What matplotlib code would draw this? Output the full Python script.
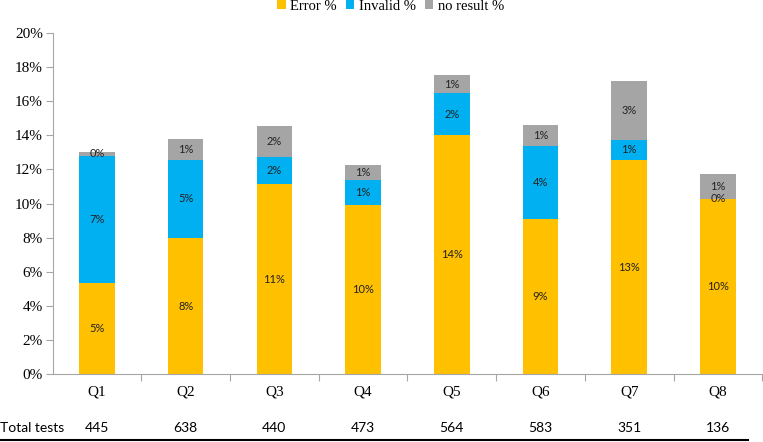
import matplotlib
matplotlib.use("Agg")
import matplotlib.pyplot as plt
from matplotlib.transforms import blended_transform_factory
from matplotlib.lines import Line2D
from matplotlib.ticker import FuncFormatter
from matplotlib.font_manager import FontProperties

categories = ["Q1", "Q2", "Q3", "Q4", "Q5", "Q6", "Q7", "Q8"]
error_pct = [5.36, 8.0, 11.12, 9.91, 14.01, 9.07, 12.55, 10.28]
invalid_pct = [7.44, 4.55, 1.58, 1.48, 2.45, 4.31, 1.18, 0.0]
noresult_pct = [0.2, 1.23, 1.84, 0.85, 1.05, 1.22, 3.43, 1.45]
total_tests = [445, 638, 440, 473, 564, 583, 351, 136]

series_names = ["Error %", "Invalid %", "no result %"]
colors = ["#FFC000", "#00B0F0", "#A5A5A5"]

serif = FontProperties(family="Liberation Serif", size=11)

fig = plt.figure(figsize=(7.63, 4.42), dpi=100)
ax = fig.add_axes([0.069, 0.153, 0.93, 0.773])

x = list(range(len(categories)))
bottom = [0.0] * len(categories)
handles = []
for vals, name, col in zip([error_pct, invalid_pct, noresult_pct], series_names, colors):
    bars = ax.bar(x, vals, width=0.4, bottom=bottom, color=col, label=name, zorder=2)
    handles.append(bars)
    ax.bar_label(bars, labels=[f"{round(v):d}%" for v in vals], label_type="center",
                 fontsize=8, family="Lato", color="#222222")
    bottom = [b + v for b, v in zip(bottom, vals)]

ax.set_xlim(-0.5, 7.5)
ax.set_ylim(0, 20)
ax.set_yticks(range(0, 21, 2))
ax.yaxis.set_major_formatter(FuncFormatter(lambda v, p: f"{int(v)}%"))
for s in ["top", "right"]:
    ax.spines[s].set_visible(False)
for s in ["left", "bottom"]:
    ax.spines[s].set_color("#A6A6A6")
    ax.spines[s].set_linewidth(0.8)
ax.tick_params(axis="y", length=5, color="#A6A6A6", width=0.8, pad=2)
ax.set_xticks(x)
ax.set_xticklabels(categories)
ax.set_xticks([i + 0.5 for i in range(8)], minor=True)
ax.tick_params(axis="x", which="major", length=0, pad=8.3)
ax.tick_params(axis="x", which="minor", length=5, color="#A6A6A6", width=0.8)
for lab in ax.get_xticklabels() + ax.get_yticklabels():
    lab.set_fontproperties(serif)

trans = blended_transform_factory(ax.transData, fig.transFigure)
ty = 1 - 428.5 / 442
fig.text(0.0, ty, "Total tests", ha="left", va="center", family="Lato", fontsize=10)
for xi, t in zip(x, total_tests):
    ax.text(xi, ty, str(t), transform=trans, ha="center", va="center", family="Lato", fontsize=10)
ly = 1 - 439.5 / 442
fig.add_artist(Line2D([0.0, 748 / 763], [ly, ly], color="black", linewidth=1.5, transform=fig.transFigure))

leg = fig.legend(handles=handles, labels=series_names, loc="center",
                 bbox_to_anchor=(390.5 / 763, 1 - 6 / 442), ncol=3, frameon=False,
                 prop=FontProperties(family="Liberation Serif", size=10.5),
                 handlelength=0.6, handleheight=0.6, handletextpad=0.3, columnspacing=0.6,
                 borderpad=0, borderaxespad=0)

fig.savefig("out.png", dpi=100)
